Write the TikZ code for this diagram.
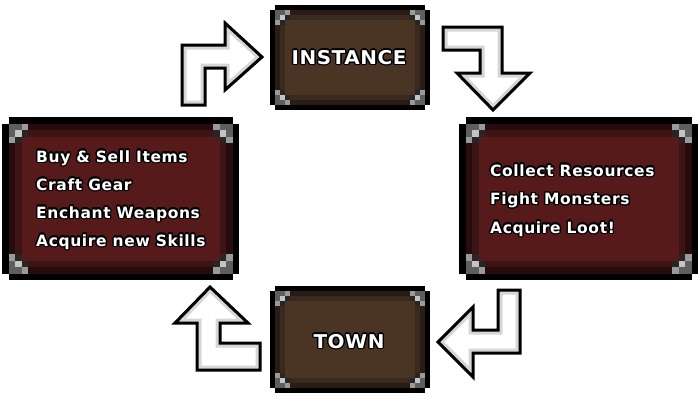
\documentclass[tikz,border=0pt]{standalone}
\usepackage{fontspec}
\usepackage{contour}
\newfontfamily\titlefont[LetterSpace=3,FakeStretch=1.05]{DejaVu Sans}
\newfontfamily\itemfont[LetterSpace=4]{DejaVu Sans}
\contourlength{1.4pt}
\contournumber{12}

\definecolor{brownfill}{HTML}{4A3424}
\definecolor{brownbandA}{HTML}{2A1C14}
\definecolor{brownbandB}{HTML}{3A291D}
\definecolor{redfill}{HTML}{561A1A}
\definecolor{redbandA}{HTML}{280C0D}
\definecolor{redbandB}{HTML}{3D1414}
\definecolor{cornerdark}{HTML}{5E5E5E}
\definecolor{cornermid}{HTML}{9A9A9A}
\definecolor{cornerlight}{HTML}{C4C4C4}
\definecolor{shadegray}{HTML}{D6D6D6}

\tikzset{
  title/.style={font=\titlefont\bfseries\fontsize{19}{21}\selectfont, text=white, inner sep=0pt},
  item/.style={font=\itemfont\bfseries\fontsize{15.5}{17}\selectfont, text=white, inner sep=0pt, anchor=base west},
  arrowshade/.style={draw=shadegray, line width=9pt},
  arrowline/.style={draw=black, line width=3pt, line join=miter},
}

% grey pixel corner: x, y, xscale, yscale, pixel
\newcommand{\pixcorner}[5]{%
  \begin{scope}[shift={({#1},{#2})}, xscale=#3, yscale=#4]
    \fill[cornerdark] (0,0) rectangle ({2*#5},#5);
    \fill[cornerdark] (0,0) rectangle (#5,{2*#5});
    \fill[cornermid] ({2*#5},0) rectangle ({3*#5},#5);
    \fill[cornermid] (0,{2*#5}) rectangle (#5,{3*#5});
    \fill[cornerlight] (#5,#5) rectangle ({2*#5},{2*#5});
    \fill[black!85] ({2*#5},#5) rectangle ({3*#5},{2*#5});
    \fill[black!85] (#5,{2*#5}) rectangle ({2*#5},{3*#5});
  \end{scope}}

% framed panel: x0, y0, x1, y1, pixel, fill, outer band, inner band
\newcommand{\pixframe}[8]{%
  \fill[black] ({#1+#5},#2) rectangle ({#3-#5},#4);
  \fill[black] (#1,{#2+#5}) rectangle (#3,{#4-#5});
  \fill[#7] ({#1+#5},{#2+#5}) rectangle ({#3-#5},{#4-#5});
  \fill[#8] ({#1+2*#5},{#2+2*#5}) rectangle ({#3-2*#5},{#4-2*#5});
  \fill[#6] ({#1+3*#5},{#2+3*#5}) rectangle ({#3-3*#5},{#4-3*#5});
  \pixcorner{#1+#5}{#2+#5}{1}{1}{#5}
  \pixcorner{#3-#5}{#2+#5}{-1}{1}{#5}
  \pixcorner{#1+#5}{#4-#5}{1}{-1}{#5}
  \pixcorner{#3-#5}{#4-#5}{-1}{-1}{#5}}

% block arrow from a closed outline
\newcommand{\pixarrow}[1]{%
  \fill[white] #1 -- cycle;
  \begin{scope}
    \clip #1 -- cycle;
    \draw[arrowshade] #1 -- cycle;
  \end{scope}
  \draw[arrowline] #1 -- cycle;}

\begin{document}
\begin{tikzpicture}[x=1pt, y=-1pt]
    \useasboundingbox (0,0) rectangle (700,400);
    % panels
    \pixframe{270}{5}{430}{110}{5}{brownfill}{brownbandA}{brownbandB}
    \pixframe{270}{286}{430}{393}{5}{brownfill}{brownbandA}{brownbandB}
    \pixframe{2}{117}{239}{280}{6.5}{redfill}{redbandA}{redbandB}
    \pixframe{459}{117}{698}{280}{6.5}{redfill}{redbandA}{redbandB}
    % titles
    \node[title] (instance) at (349,58) {\contour{black}{INSTANCE}};
    \node[title] (town) at (349,342) {\contour{black}{TOWN}};
    % town activities
    \foreach \txt [count=\i] in {Buy \& Sell Items, Craft Gear, Enchant Weapons, Acquire new Skills}
        \node[item] (townitem\i) at (36,{134+28*\i}) {\contour{black}{\txt}};
    % instance activities
    \foreach \txt [count=\i] in {Collect Resources, Fight Monsters, Acquire Loot!}
        \node[item] (institem\i) at (490,{147.5+28.5*\i}) {\contour{black}{\txt}};
    % cycle arrows
    \pixarrow{(182,105) -- (182,45) -- (225,45) -- (225,23) -- (262,57) -- (225,90) -- (225,68) -- (205,68) -- (205,105)}
    \pixarrow{(443,27) -- (502,27) -- (502,73) -- (530,73) -- (493,110) -- (457,73) -- (480,73) -- (480,50) -- (443,50)}
    \pixarrow{(520,290) -- (520,353) -- (473,353) -- (473,377) -- (438,342) -- (473,307) -- (473,330) -- (498,330) -- (498,290)}
    \pixarrow{(210,287) -- (248,323) -- (220,323) -- (220,343) -- (260,343) -- (260,370) -- (197,370) -- (197,323) -- (175,323)}
\end{tikzpicture}
\end{document}
